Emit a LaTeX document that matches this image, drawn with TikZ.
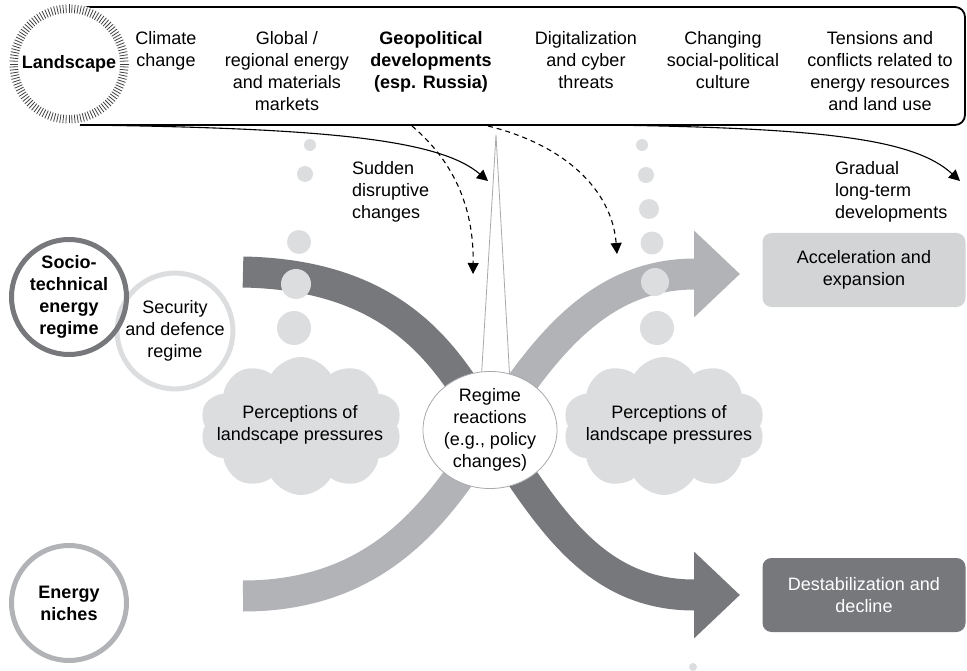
\documentclass[tikz,border=0pt]{standalone}
\usepackage{fontspec}
\setmainfont{Liberation Sans}
\usetikzlibrary{arrows.meta,shapes.geometric,shapes.symbols}
\definecolor{darkgr}{HTML}{77787B}
\definecolor{midgr}{HTML}{B1B3B6}
\definecolor{lightgr}{HTML}{DCDDDE}
\definecolor{boxgr}{HTML}{D3D4D6}
\definecolor{rimgr}{HTML}{A7A9AC}
\tikzset{
  txt/.style={align=center, inner sep=0pt},
  ring/.style={circle, minimum size=115pt, line width=5pt, inner sep=0pt, align=center},
  band/.style={line width=31pt, -{Triangle[length=46pt,width=84pt]}},
  flow/.style={line width=1.1pt, -{Triangle[length=11pt,width=11pt]}},
  puff/.style={cloud, cloud puffs=10, cloud puff arc=120, cloud ignores aspect, fill=lightgr,
    minimum width=202pt, minimum height=138pt, inner sep=0pt},
  outcome/.style={rounded corners=9pt, minimum width=203pt, minimum height=74pt, align=center},
  dot/.style={circle, fill=lightgr, inner sep=0pt}
}
\begin{document}
\begin{tikzpicture}[x=1pt, y=-1pt, line join=round, font=\fontsize{18}{22}\selectfont]
    \useasboundingbox (0,0) rectangle (967,671);
    \draw[line width=1.8pt, rounded corners=10pt] (85,7) -- (965,7) -- (965,125) -- (80,125);
    \node[circle, fill=white, minimum size=120pt, inner sep=0pt] (land) at (69,64) {\bfseries Landscape};
    \foreach \a in {0,3,...,357}
        \draw[line width=0.8pt, black!75] ([shift={(\a:51)}]land.center) -- ([shift={(\a:59.5)}]land.center);
    \node[txt, anchor=north] (climate) at (166,31) {Climate\\change};
    \node[txt, anchor=north] (markets) at (287,31) {Global /\\regional energy\\and materials\\markets};
    \node[txt, anchor=north, font=\fontsize{18}{22}\selectfont\bfseries] (geopol) at (431,31) {Geopolitical\\developments\\(esp. Russia)};
    \node[txt, anchor=north] (cyber) at (586,31) {Digitalization\\and cyber\\threats};
    \node[txt, anchor=north] (culture) at (723,31) {Changing\\social-political\\culture};
    \node[txt, anchor=north] (tensions) at (880,31) {Tensions and\\conflicts related to\\energy resources\\and land use};
    \coordinate (s1) at (80,125);
    \coordinate (e1) at (488,181);
    \coordinate (s2) at (605,125);
    \coordinate (e2) at (960,181);
    \coordinate (d1) at (412,126);
    \coordinate (f1) at (473,274);
    \coordinate (d2) at (488,126);
    \coordinate (f2) at (617,254);
    \draw[flow] (s1) .. controls (330,128) and (440,140) .. (e1);
    \draw[flow] (s2) .. controls (830,128) and (915,140) .. (e2);
    \draw[flow, dash pattern=on 5pt off 4pt] (d1) .. controls (452,160) and (474,205) .. (f1);
    \draw[flow, dash pattern=on 5pt off 4pt] (d2) .. controls (565,145) and (612,190) .. (f2);
    \node[anchor=north west, align=left, inner sep=0pt] (sudden) at (352,161) {Sudden\\disruptive\\changes};
    \node[anchor=north west, align=left, inner sep=0pt] (gradual) at (835,161) {Gradual\\long-term\\developments};
    \coordinate (cross) at (490,430);
    \coordinate (regstart) at (243,272);
    \coordinate (nichestart) at (243,596);
    \coordinate (down) at (740,595);
    \coordinate (up) at (740,274);
    \draw[band, darkgr] (regstart) .. controls (400,275) and (450,360) .. (cross) .. controls (545,510) and (590,595) .. (694,595) -- (down);
    \draw[band, midgr] (nichestart) .. controls (380,596) and (440,510) .. (cross) .. controls (545,345) and (600,274) .. (695,274) -- (up);
    \coordinate (apex) at (496,135);
    \filldraw[fill=white, draw=rimgr, line width=0.8pt] (apex) -- (480,400) -- (511,400) -- cycle;
    \node[ellipse, draw=rimgr, fill=white, line width=0.8pt, minimum width=134pt, minimum height=106pt, inner sep=0pt, align=center] (react) at (cross) {Regime\\reactions\\(e.g., policy\\changes)};
    \foreach \x/\y/\r [count=\i] in {310/145/6, 305/174/8, 299/242/12, 296/284/15, 294/328/17}
        \node[dot, minimum size={2*\r*1pt}] (dl\i) at (\x,\y) {};
    \foreach \x/\y/\r [count=\i] in {642/145/6, 646/175/8, 649/209/10, 652/243/11.5, 655/282/14, 657/328/17}
        \node[dot, minimum size={2*\r*1pt}] (dr\i) at (\x,\y) {};
    \node[dot, minimum size=8pt] (dbot) at (693,667) {};
    \node[puff] (percl) at (301,426) {};
    \node[puff] (percr) at (664,426) {};
    \node[txt] (perclt) at (300,425) {Perceptions of\\landscape pressures};
    \node[txt] (percrt) at (669,425) {Perceptions of\\landscape pressures};
    \node[ring, draw=lightgr] (security) at (175,331) {Security\\and defence\\regime};
    \node[ring, draw=darkgr, font=\fontsize{18}{22}\selectfont\bfseries] (regime) at (69,297) {Socio-\\technical\\energy\\regime};
    \node[ring, draw=midgr, font=\fontsize{18}{22}\selectfont\bfseries] (niches) at (69,603) {Energy\\niches};
    \node[outcome, fill=boxgr] (accel) at (864,270) {Acceleration and\\expansion};
    \node[outcome, fill=darkgr, text=white] (destab) at (864,595) {Destabilization and\\decline};
\end{tikzpicture}
\end{document}
